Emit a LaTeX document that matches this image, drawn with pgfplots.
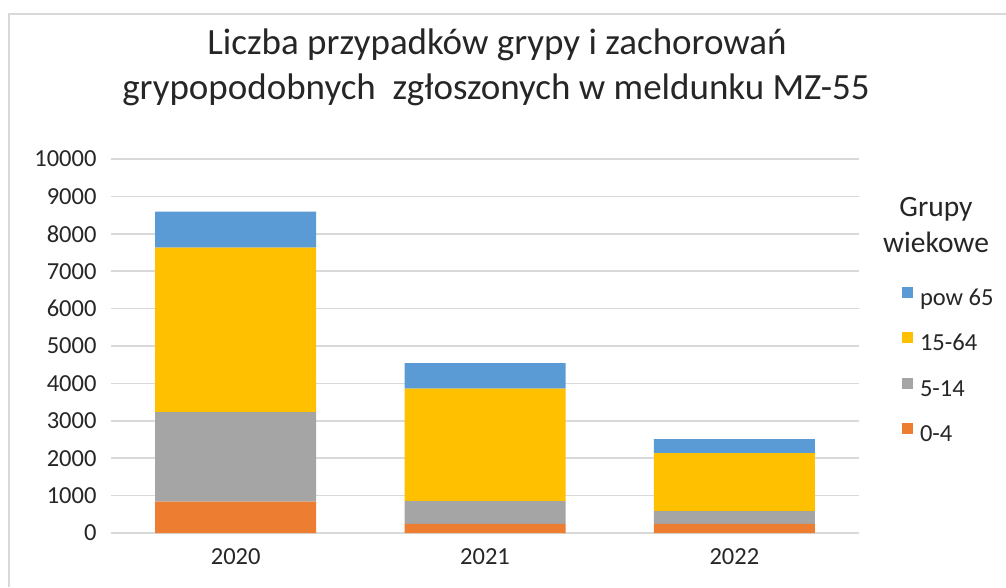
\documentclass[border=0pt]{standalone}
\usepackage{fontspec}
\setmainfont{Carlito}
\usepackage{pgfplots}
\pgfplotsset{compat=1.18}
\definecolor{cblue}{HTML}{5B9BD5}
\definecolor{cyellow}{HTML}{FFC000}
\definecolor{cgrey}{HTML}{A5A5A5}
\definecolor{corange}{HTML}{ED7D31}
\definecolor{gridc}{HTML}{D9D9D9}
\definecolor{txt}{HTML}{262626}
\begin{document}
\begin{tikzpicture}
\useasboundingbox (0pt,0pt) rectangle (1006pt,587pt);
\draw[gridc,line width=1.5pt] (9pt,0pt) -- (9pt,573pt) -- (1006pt,573pt);
\node[txt,font=\fontsize{37}{44}\selectfont] at (497pt,542pt) {Liczba przypadków grypy i zachorowań};
\node[txt,font=\fontsize{37}{44}\selectfont] at (496pt,497pt) {grypopodobnych\ \ zgłoszonych w meldunku MZ-55};
\node[txt,font=\fontsize{29.5}{36}\selectfont,align=center] at (936pt,362pt) {Grupy\\wiekowe};
\begin{axis}[
  at={(111pt,54pt)}, anchor=south west,
  scale only axis, width=748pt, height=374pt,
  xmin=-0.5, xmax=2.5, ymin=0, ymax=10000,
  ybar stacked, bar width=161pt,
  xtick={0,1,2}, xticklabels={2020,2021,2022},
  ytick={0,1000,...,10000},
  scaled y ticks=false,
  axis line style={draw=none},
  tick style={draw=none},
  ymajorgrids, major grid style={gridc,line width=1.5pt},
  /pgf/number format/assume math mode=true,
  /pgf/number format/1000 sep={},
  ticklabel style={font=\fontsize{24.5}{29}\selectfont, text=txt},
  yticklabel style={xshift=-11pt},
  xticklabel style={yshift=-12pt},
  reverse legend,
  legend style={at={(1.0575,0.658)}, anchor=north west, draw=none, fill=none,
    inner sep=0pt, outer sep=0pt,
    font=\fontsize{24.5}{29}\selectfont, text=txt, row sep=22pt, column sep=7pt,
    nodes={inner xsep=0pt, inner ysep=0pt, text height=16pt, text depth=5pt},
    cells={anchor=west}},
  legend image code/.code={\fill[#1,draw=none] (0pt,2pt) rectangle (11pt,13pt);},
]
\addplot[fill=corange,draw=none] coordinates {(0,837) (1,242) (2,242)};
\addplot[fill=cgrey,draw=none] coordinates {(0,2398) (1,610) (2,341)};
\addplot[fill=cyellow,draw=none] coordinates {(0,4393) (1,3011) (2,1551)};
\addplot[fill=cblue,draw=none] coordinates {(0,963) (1,680) (2,377)};
\legend{0-4,5-14,15-64,pow 65}
\end{axis}
\end{tikzpicture}
\end{document}
